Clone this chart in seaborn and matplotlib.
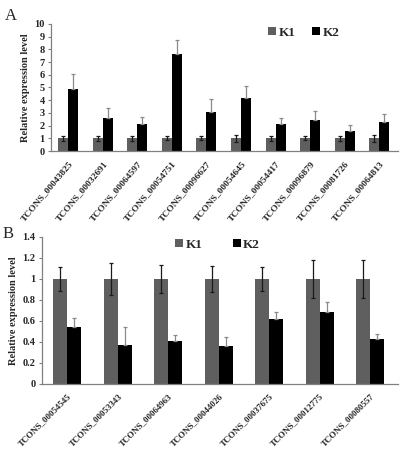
import matplotlib
matplotlib.use("Agg")
import matplotlib.pyplot as plt
import seaborn as sns
import pandas as pd
import numpy as np

sns.set_theme(style="white")
plt.rcParams['font.family'] = ['Liberation Serif', 'DejaVu Serif']

# Panel A data
genes_a = ["TCONS_00043825", "TCONS_00032691", "TCONS_00064597", "TCONS_00054751",
           "TCONS_00096627", "TCONS_00054645", "TCONS_00054417", "TCONS_00096879",
           "TCONS_00081726", "TCONS_00064813"]
k1_a = [1, 1, 1, 1, 1, 1, 1, 1, 1, 1]
k1_a_err = [0.2, 0.2, 0.18, 0.15, 0.15, 0.25, 0.2, 0.15, 0.2, 0.25]
k2_a = [4.9, 2.6, 2.1, 7.65, 3.1, 4.15, 2.15, 2.45, 1.55, 2.25]
k2_a_err = [1.2, 0.75, 0.55, 1.1, 1.0, 1.0, 0.45, 0.7, 0.5, 0.65]

# Panel B data
genes_b = ["TCONS_00054545", "TCONS_00053343", "TCONS_00064963", "TCONS_00044026",
           "TCONS_00037675", "TCONS_00012775", "TCONS_00080557"]
k1_b = [1, 1, 1, 1, 1, 1, 1]
k1_b_err = [0.11, 0.15, 0.13, 0.12, 0.11, 0.18, 0.18]
k2_b = [0.54, 0.37, 0.41, 0.36, 0.615, 0.69, 0.43]
k2_b_err = [0.09, 0.17, 0.06, 0.09, 0.075, 0.09, 0.05]

groups = ["K1", "K2"]
palette = {"K1": "#5f5f5f", "K2": "#000000"}
err_colors = {"K1": "#1a1a1a", "K2": "#8a8a8a"}


def make_df(genes, k1, k2, e1, e2):
    return pd.DataFrame({
        "gene": list(genes) * 2,
        "group": ["K1"] * len(genes) + ["K2"] * len(genes),
        "value": list(k1) + list(k2),
        "err": list(e1) + list(e2),
    })


def draw(ax, df, ylim, yticks, yticklabels, width, legend_anchor, colspace, xfs, rot):
    sns.barplot(data=df, x="gene", y="value", hue="group", palette=palette,
                hue_order=groups, width=width, gap=0, errorbar=None,
                edgecolor="none", ax=ax, legend=True)
    n = len(df) // 2
    for gi, g in enumerate(groups):
        cont = ax.containers[gi]
        sub = df[df.group == g]
        xs = [p.get_x() + p.get_width() / 2 for p in cont.patches]
        e = sub["err"].values
        if g == "K2":
            yerr = [np.zeros_like(e), e]
        else:
            yerr = e
        ax.errorbar(xs, sub["value"].values, yerr=yerr, fmt="none",
                    ecolor=err_colors[g], elinewidth=0.9, capsize=1.6, capthick=0.9)
    ax.set_xlim(-0.5, n - 0.45)
    ax.set_ylim(*ylim)
    ax.set_yticks(yticks)
    ax.set_yticklabels(yticklabels, fontsize=7.5, fontweight="bold")
    ax.set_xticks(range(n))
    ax.set_xticklabels(df["gene"].values[:n], rotation=rot, ha="right",
                       rotation_mode="anchor", fontsize=xfs, fontweight="bold")
    ax.set_xlabel("")
    ax.set_ylabel("Relative expression level", fontsize=7.5, fontweight="bold", labelpad=3)
    for s in ["top", "right"]:
        ax.spines[s].set_visible(False)
    for s in ["left", "bottom"]:
        ax.spines[s].set_color("#808080")
        ax.spines[s].set_linewidth(0.9)
    ax.tick_params(axis="y", which="both", left=True, length=2.5, width=0.8,
                   color="#808080", pad=2)
    ax.tick_params(axis="x", bottom=False, pad=0)
    ax.legend(loc="upper left", bbox_to_anchor=legend_anchor, ncol=2, frameon=False,
              handlelength=0.6, handleheight=0.6, handletextpad=0.2,
              columnspacing=colspace, prop={"weight": "bold", "size": 9.5})


fig = plt.figure(figsize=(4.07, 4.51), dpi=100)
ax1 = fig.add_axes([0.1253, 0.665, 0.853, 0.282])
ax2 = fig.add_axes([0.103, 0.1486, 0.875, 0.326])

df_a = make_df(genes_a, k1_a, k2_a, k1_a_err, k2_a_err)
df_b = make_df(genes_b, k1_b, k2_b, k1_b_err, k2_b_err)

draw(ax1, df_a, (0, 10), list(range(0, 11)), [str(i) for i in range(0, 11)], 0.58,
     (0.59, 1.07), 1.3, 6.8, 50)
draw(ax2, df_b, (0, 1.4), [0, 0.2, 0.4, 0.6, 0.8, 1.0, 1.2, 1.4],
     ["0", "0.2", "0.4", "0.6", "0.8", "1", "1.2", "1.4"], 0.56,
     (0.34, 1.07), 2.3, 6.4, 45)

fig.text(0.012, 0.965, "A", fontsize=12, va="center", ha="left")
fig.text(0.007, 0.482, "B", fontsize=12, va="center", ha="left")

fig.savefig("out.png", dpi=100)
